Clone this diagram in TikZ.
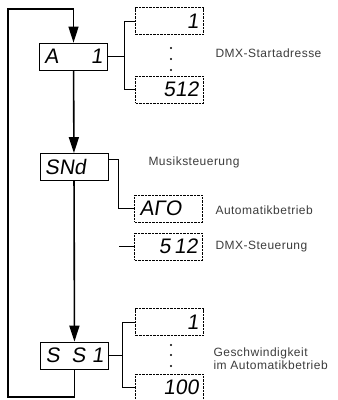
\documentclass[tikz,border=0pt]{standalone}
\usepackage{fontspec}
\setmainfont{Liberation Sans}
\newfontfamily\segfont[FakeSlant=0.15]{Liberation Sans}
\newfontfamily\labelfont[LetterSpace=4]{Liberation Sans}
\usetikzlibrary{positioning, arrows.meta}
\definecolor{inkgray}{RGB}{60,60,60}

\begin{document}
\begin{tikzpicture}[
    x=1pt, y=-1pt,
    display/.style={
        rectangle,
        draw=black,
        line width=0.8pt,
        minimum width=68pt,
        minimum height=27pt,
        text width=58pt,
        inner xsep=5pt,
        font=\segfont\fontsize{21}{21}\selectfont
    },
    subdisplay/.style={
        display,
        line width=0.7pt,
        dash pattern=on 2.5pt off 1pt,
        minimum width=67pt,
        align=right
    },
    note/.style={
        anchor=west,
        text=inkgray,
        align=left,
        font=\labelfont\fontsize{12}{13}\selectfont
    },
    flow/.style={
        line width=1.6pt,
        -{Triangle[length=16pt, width=10pt]}
    },
    loopline/.style={
        line width=1.3pt
    },
    bracket/.style={
        line width=0.6pt
    }
]
\useasboundingbox (0,0) rectangle (338,400);

% Main displays
\node[display] (addr) at (73.5,56.5) {A\hfill 1};
\node[display] (sound) at (74,167) {SNd};
\node[display] (speed) at (74.5,355.5) {S\hspace{12pt}S\hfill 1};

% Sub displays
\node[subdisplay] (addrlow) at (169.5,21) {1};
\node[subdisplay] (addrhigh) at (169.5,89.5) {512};
\node[subdisplay, align=left] (auto) at (168.5,208.5) {AΓO};
\node[subdisplay] (dmx) at (168.5,246.5) {5\,12};
\node[subdisplay] (speedlow) at (169.5,322) {1};
\node[subdisplay] (speedhigh) at (169.5,387.5) {100};

% Labels
\node[note] (addrtxt) at (212,53) {DMX-Startadresse};
\node[note] (soundtxt) at (145,162) {Musiksteuerung};
\node[note] (autotxt) at (212,210) {Automatikbetrieb};
\node[note] (dmxtxt) at (212,247) {DMX-Steuerung};
\node[note] (speedtxt) at (210,359) {Geschwindigkeit\\im Automatikbetrieb};

% Main flow
\coordinate (cornerlow) at (8,397);
\coordinate (cornerup) at (8,9);
\draw[flow] (addr) -- (sound);
\draw[flow] (sound) -- (speed);
\draw[loopline] (speed.south) |- (cornerlow) -- (cornerup) -| ([yshift=8pt]addr.north);
\draw[flow, line width=1.3pt] ([yshift=10pt]addr.north) -- (addr.north);

% Brackets
\draw[bracket] (addr.east) -- ++(16,0) coordinate (addrjoin);
\draw[bracket] (addrlow.west) -| (addrjoin) |- (addrhigh.west);
\draw[bracket] ([yshift=8pt]sound.east) -- ++(10,0) coordinate (soundjoin);
\draw[bracket] (soundjoin) |- (auto.west);
\draw[bracket] (dmx.west) -- ++(-15,0);
\draw[bracket] (speed.east) -- ++(13,0) coordinate (speedjoin);
\draw[bracket] (speedlow.west) -| (speedjoin) |- (speedhigh.west);

% Dots
\foreach \y in {48,59,70} \fill (171,\y) circle (1.1);
\foreach \y in {345,355,366} \fill (171,\y) circle (1.1);

\end{tikzpicture}
\end{document}
